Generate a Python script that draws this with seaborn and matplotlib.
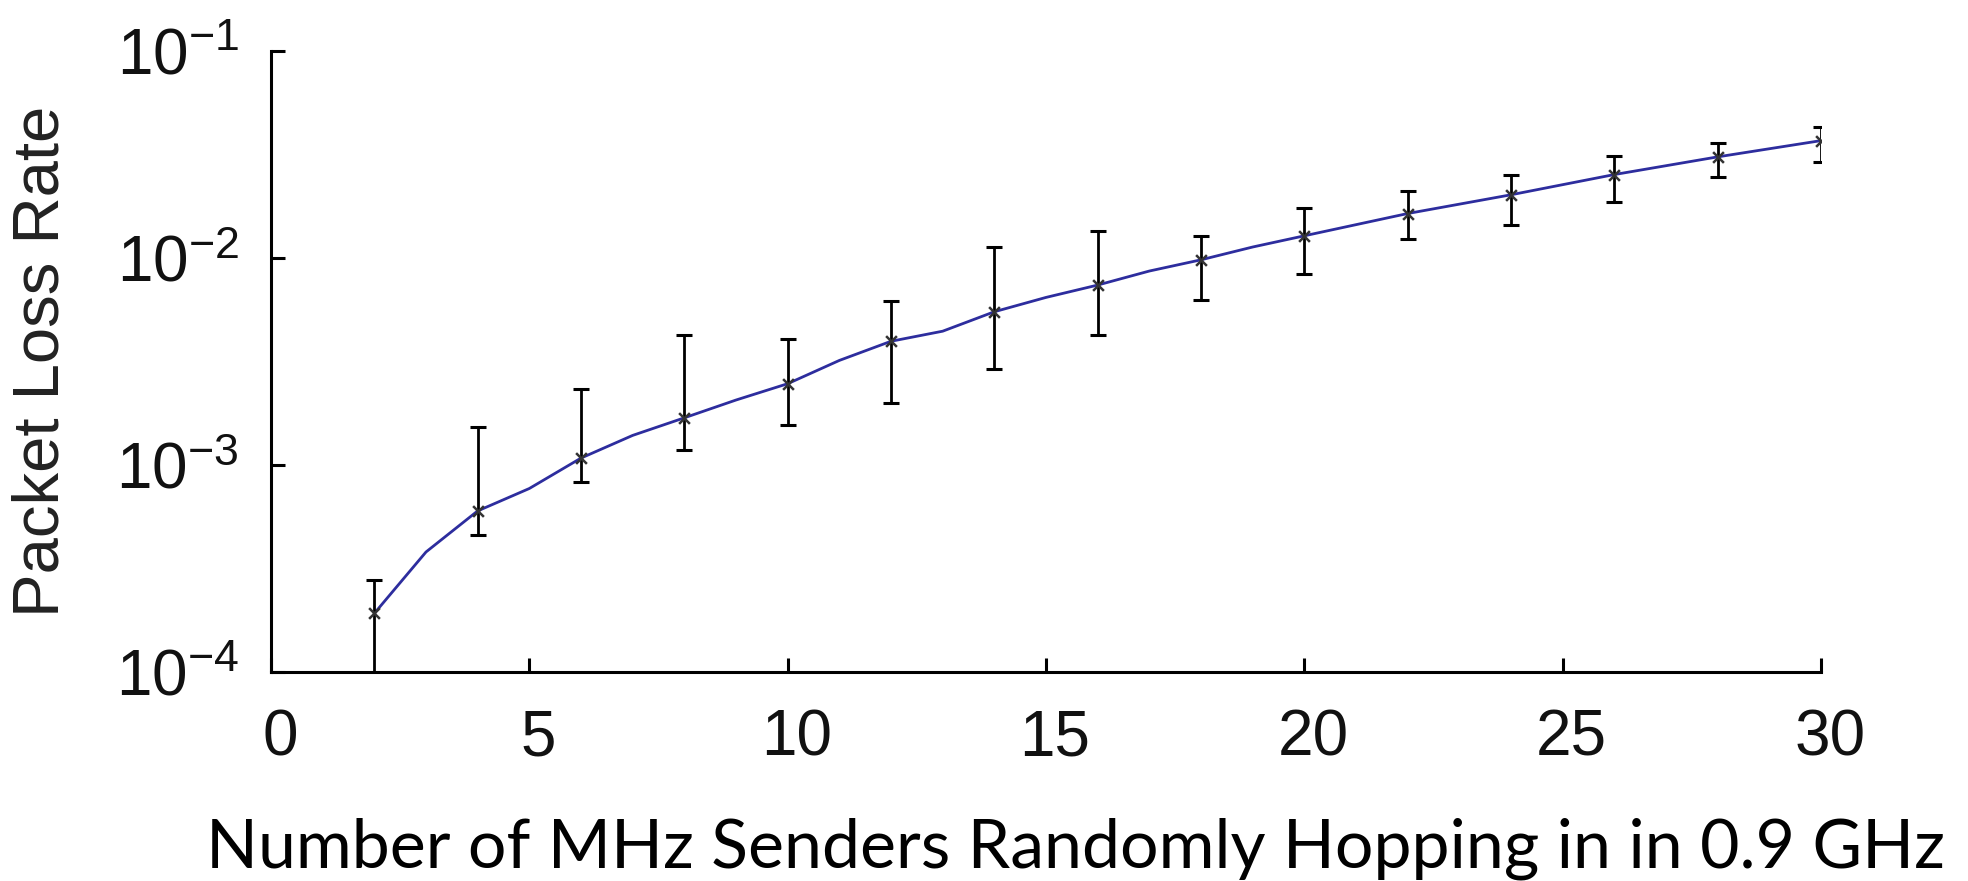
import numpy as np
import pandas as pd
import matplotlib
matplotlib.use("Agg")
import matplotlib.pyplot as plt
import matplotlib.transforms as mtransforms
import seaborn as sns

# Line (all read points)
line_x = [2, 3, 4, 5, 6, 7, 8, 9, 10, 11, 12, 13, 14, 15, 16, 17, 18, 19, 20, 22, 24, 26, 28, 30]
line_y = [1.92e-4, 3.8e-4, 6.0e-4, 7.7e-4, 1.08e-3, 1.39e-3, 1.69e-3, 2.06e-3, 2.47e-3, 3.2e-3,
          3.96e-3, 4.43e-3, 5.5e-3, 6.45e-3, 7.4e-3, 8.65e-3, 9.8e-3, 1.13e-2, 1.28e-2,
          1.64e-2, 2.02e-2, 2.53e-2, 3.08e-2, 3.69e-2]

# Error-bar points
err_x = [2, 4, 6, 8, 10, 12, 14, 16, 18, 20, 22, 24, 26, 28, 30]
err_y = [1.92e-4, 6.0e-4, 1.08e-3, 1.69e-3, 2.47e-3, 3.96e-3, 5.5e-3, 7.4e-3, 9.8e-3,
         1.28e-2, 1.64e-2, 2.02e-2, 2.53e-2, 3.08e-2, 3.69e-2]
err_hi = [2.77e-4, 1.53e-3, 2.33e-3, 4.25e-3, 4.07e-3, 6.19e-3, 1.13e-2, 1.35e-2, 1.28e-2,
          1.74e-2, 2.11e-2, 2.53e-2, 3.12e-2, 3.58e-2, 4.3e-2]
err_lo = [0.9e-4, 4.57e-4, 8.3e-4, 1.18e-3, 1.56e-3, 2.0e-3, 2.92e-3, 4.25e-3, 6.28e-3,
          8.4e-3, 1.23e-2, 1.45e-2, 1.86e-2, 2.46e-2, 2.91e-2]

x_ticks = [0, 5, 10, 15, 20, 25, 30]
y_ticks = [1e-4, 1e-3, 1e-2, 1e-1]
y_tick_labels = [r"$10^{-4}$", r"$10^{-3}$", r"$10^{-2}$", r"$10^{-1}$"]
ylabel = "Packet Loss Rate"
xlabel = "Number of MHz Senders Randomly Hopping in in 0.9 GHz"

sns.set_style("ticks")
plt.rcParams["font.family"] = ["Liberation Sans", "DejaVu Sans"]
plt.rcParams["mathtext.fontset"] = "custom"
plt.rcParams["mathtext.rm"] = "Liberation Sans"
plt.rcParams["mathtext.it"] = "Liberation Sans"
plt.rcParams["mathtext.default"] = "regular"

W, H = 1968, 881
fig = plt.figure(figsize=(W / 100, H / 100), dpi=100)
ax = fig.add_axes([271 / W, 1 - 672 / H, (1821 - 271) / W, (672 - 51) / H])

df_line = pd.DataFrame({"x": line_x, "y": line_y})
sns.lineplot(data=df_line, x="x", y="y", ax=ax, color="#2d2d9e", linewidth=2.0, zorder=2)

err_y_a = np.array(err_y)
yerr = np.vstack([err_y_a - np.array(err_lo), np.array(err_hi) - err_y_a])
ax.errorbar(err_x, err_y, yerr=yerr, fmt="none", ecolor="black", elinewidth=2.0,
            capsize=6, capthick=2.2, zorder=3)
ax.scatter(err_x, err_y, marker="x", s=60, color="#333333", linewidths=1.8, zorder=4)

ax.set_yscale("log")
ax.set_xlim(0, 30)
ax.set_ylim(1e-4, 1e-1)
ax.set_xticks(x_ticks)
ax.set_xticklabels([str(t) for t in x_ticks])
ax.set_yticks(y_ticks)
ax.set_yticklabels(y_tick_labels)
ax.yaxis.set_minor_locator(matplotlib.ticker.NullLocator())

for s in ["top", "right"]:
    ax.spines[s].set_visible(False)
for s in ["left", "bottom"]:
    ax.spines[s].set_linewidth(2.2)
    ax.spines[s].set_color("black")

ax.tick_params(axis="both", direction="in", length=10, width=2.2, color="black",
               labelsize=46, labelcolor="#111111")
ax.tick_params(axis="x", pad=26)
ax.tick_params(axis="y", pad=23)

# small rightward shift of x tick labels as in the reference
offset = mtransforms.ScaledTranslation(9 / 100, 0, fig.dpi_scale_trans)
for lab in ax.get_xticklabels():
    lab.set_transform(lab.get_transform() + offset)

ax.set_xlabel("")
ax.set_ylabel("")
fig.text(42 / W, 1 - 361 / H, ylabel, rotation=90, ha="center", va="center",
         fontsize=47, color="#222222")

fig.text(206 / W, 1 - 867 / H, xlabel, ha="left", va="baseline",
         fontsize=49, family=["Lato", "DejaVu Sans"], color="black")

fig.savefig("out.png", dpi=100)
